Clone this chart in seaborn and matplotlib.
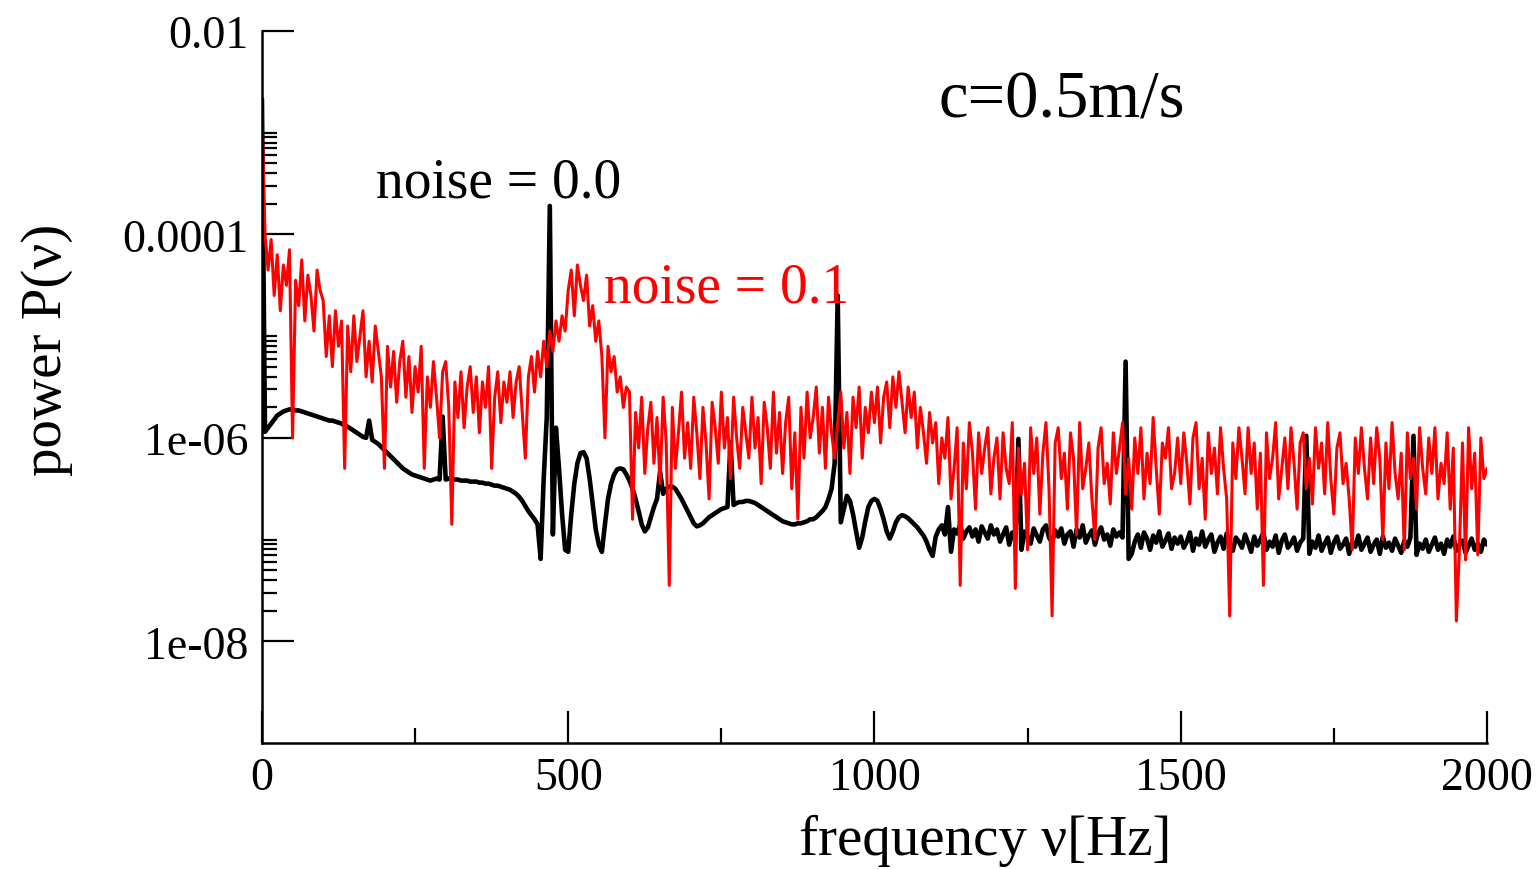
import numpy as np
import pandas as pd
import matplotlib
matplotlib.use("Agg")
import matplotlib.pyplot as plt
import seaborn as sns
from matplotlib.ticker import FixedLocator, NullFormatter

# ---------------- data (log10 of power, 5 Hz grid) ----------------
freq_hz = np.arange(0, 2001, 5)

logp_noise_00 = (
    [-2.67, -5.94, -5.9, -5.86, -5.82, -5.78, -5.76, -5.74, -5.73, -5.72, -5.72, -5.73, -5.73, -5.74, -5.75, -5.76, -5.77, -5.78, -5.79, -5.80]
    + [-5.81, -5.82, -5.83, -5.83, -5.84, -5.85, -5.86, -5.88, -5.89, -5.91, -5.93, -5.95, -5.97, -5.99, -6.00, -5.83, -6.02, -6.04, -6.06, -6.09]
    + [-6.12, -6.15, -6.18, -6.21, -6.24, -6.27, -6.30, -6.32, -6.34, -6.36, -6.37, -6.38, -6.39, -6.40, -6.41, -6.42, -6.41, -6.40, -6.41, -5.79]
    + [-6.41, -6.40, -6.40, -6.41, -6.41, -6.42, -6.42, -6.42, -6.43, -6.43, -6.43, -6.44, -6.44, -6.45, -6.45, -6.46, -6.47, -6.47, -6.48, -6.49]
    + [-6.50, -6.51, -6.53, -6.55, -6.58, -6.62, -6.67, -6.72, -6.76, -6.80, -6.85, -7.19, -6.4, -5.8, -3.72, -6.95, -5.9, -6.3, -6.75, -7.1]
    + [-7.12, -6.75, -6.45, -6.25, -6.15, -6.14, -6.2, -6.4, -6.65, -6.9, -7.05, -7.12, -6.85, -6.6, -6.45, -6.36, -6.31, -6.3, -6.31, -6.36]
    + [-6.42, -6.5, -6.6, -6.72, -6.85, -6.92, -6.88, -6.78, -6.68, -6.6, -6.33, -6.55, -6.5, -6.48, -6.48, -6.5, -6.55, -6.6, -6.66, -6.72]
    + [-6.78, -6.84, -6.87, -6.86, -6.84, -6.81, -6.78, -6.76, -6.74, -6.72, -6.70, -6.69, -6.68, -6.04, -6.66, -6.64, -6.63, -6.63, -6.62, -6.62]
    + [-6.63, -6.64, -6.66, -6.68, -6.70, -6.72, -6.74, -6.76, -6.78, -6.80, -6.82, -6.83, -6.84, -6.85, -6.85, -6.84, -6.84, -6.83, -6.82, -6.80]
    + [-6.8, -6.78, -6.75, -6.72, -6.68, -6.6, -6.5, -6.25, -4.6, -6.83, -6.7, -6.57, -6.62, -6.75, -6.92, -7.08, -6.98, -6.82, -6.68, -6.62]
    + [-6.6, -6.62, -6.7, -6.8, -6.92, -6.99, -6.92, -6.83, -6.78, -6.76, -6.77, -6.79, -6.82, -6.85, -6.88, -6.92, -6.96, -7.02, -7.1, -7.16]
    + [-6.97, -6.9, -6.86, -6.95, -6.68, -7.12, -6.9, -6.94, -6.85, -6.99, -6.92, -6.88, -6.97, -6.9, -7.02, -6.87, -6.93, -6.99, -6.86, -6.95]
    + [-6.9, -7.02, -6.95, -6.88, -7.05, -6.93, -7.0, -6.01, -7.1, -6.92, -6.97, -7.04, -6.89, -6.96, -7.02, -6.9, -6.86, -6.98, -7.03, -6.91]
    + [-6.97, -6.89, -7.04, -6.95, -6.92, -7.07, -6.9, -6.98, -6.86, -7.03, -6.96, -6.91, -7.05, -6.94, -6.88, -7.0, -6.95, -7.06, -6.9, -6.97]
    + [-6.93, -6.98, -5.25, -7.19, -7.14, -7.02, -6.95, -7.08, -6.93, -6.99, -7.1, -6.96, -7.03, -6.92, -7.07, -7.01, -6.94, -7.09, -6.98, -7.04]
    + [-6.97, -7.08, -7.02, -6.93, -7.11, -6.99, -7.05, -6.92, -7.07, -7.0, -6.95, -7.12, -7.03, -6.97, -7.09, -6.94, -7.04, -7.11, -6.98, -7.02]
    + [-7.08, -6.95, -7.03, -7.12, -6.97, -7.06, -7.0, -6.93, -7.1, -7.02, -7.07, -6.96, -7.13, -7.01, -6.95, -7.08, -7.04, -6.98, -7.11, -7.03]
    + [-6.99, -5.98, -7.14, -7.02, -7.08, -6.96, -7.11, -7.04, -6.98, -7.13, -7.03, -6.97, -7.09, -7.05, -6.99, -7.14, -7.02, -7.07, -6.96, -7.1]
    + [-7.04, -6.98, -7.12, -7.05, -7.0, -7.14, -6.97, -7.08, -7.03, -7.11, -6.99, -7.06, -7.13, -7.01, -7.07, -6.98, -5.98, -7.15, -7.04, -7.09]
    + [-7.0, -7.12, -7.05, -6.98, -7.1, -7.04, -7.14, -7.0, -7.07, -6.97, -7.11, -7.05, -7.01, -7.13, -7.06, -6.99, -7.1, -7.04, -7.12, -7.0, -7.05]
)

logp_noise_01 = (
    [-2.8, -4.0, -4.35, -4.05, -4.6, -4.2, -4.75, -4.3, -4.5, -4.15, -6.0, -4.45, -4.7, -4.25, -4.85, -4.4, -4.6, -4.95, -4.35, -4.55]
    + [-4.65, -5.2, -4.8, -5.3, -4.75, -5.1, -4.85, -6.3, -4.9, -5.35, -4.8, -5.25, -5.0, -4.75, -5.4, -5.05, -5.45, -4.9, -5.15, -5.4]
    + [-6.3, -5.1, -5.5, -5.15, -5.65, -5.25, -5.05, -5.6, -5.2, -5.75, -5.3, -5.55, -5.1, -6.3, -5.4, -5.7, -5.25, -5.6, -6.0, -5.35]
    + [-5.25, -5.7, -6.85, -5.45, -5.8, -5.35, -5.9, -5.5, -5.3, -5.75, -5.4, -5.95, -5.45, -5.7, -5.3, -6.3, -5.6, -5.35, -5.85, -5.45]
    + [-5.65, -5.35, -5.8, -5.45, -5.3, -5.75, -6.2, -5.4, -5.2, -5.55, -5.15, -5.4, -5.05, -5.3, -4.95, -5.15, -4.85, -5.05, -4.8, -4.95]
    + [-4.55, -4.35, -4.8, -4.3, -4.5, -4.65, -4.4, -4.9, -4.7, -5.05, -4.85, -5.2, -6.0, -5.1, -5.35, -5.2, -5.55, -5.4, -5.7, -5.5]
    + [-5.55, -6.8, -5.75, -6.1, -5.6, -6.35, -5.9, -5.65, -6.25, -5.8, -6.45, -5.6, -6.05, -7.45, -5.7, -6.3, -5.95, -5.55, -6.2, -5.85]
    + [-6.3, -5.6, -5.95, -6.4, -5.7, -6.05, -6.6, -5.65, -5.9, -6.25, -5.55, -6.1, -5.8, -6.4, -5.6, -6.0, -6.3, -5.7, -5.95, -6.2]
    + [-5.6, -6.1, -5.8, -6.45, -5.65, -5.9, -6.3, -5.55, -6.15, -5.75, -6.35, -5.85, -5.6, -6.5, -5.95, -6.8, -5.7, -6.2, -5.55, -6.0]
    + [-5.8, -5.5, -6.15, -5.7, -6.3, -5.6, -5.95, -6.2, -5.85, -5.55, -6.1, -5.75, -6.35, -5.6, -5.9, -5.5, -6.2, -5.7, -5.95, -5.55]
    + [-5.85, -5.5, -6.05, -5.6, -5.45, -5.9, -5.4, -5.7, -5.35, -5.65, -5.95, -5.5, -5.8, -5.55, -6.1, -5.7, -5.95, -6.25, -5.75, -6.05]
    + [-5.85, -6.45, -6.0, -6.2, -5.8, -6.6, -6.3, -5.9, -7.45, -6.05, -6.5, -5.85, -6.15, -6.7, -5.95, -6.35, -6.1, -5.9, -6.55, -6.2]
    + [-6.0, -6.6, -5.95, -6.3, -6.45, -5.85, -7.48, -6.1, -6.55, -6.25, -7.1, -5.9, -6.35, -6.0, -6.75, -6.15, -5.85, -6.5, -7.75, -6.05]
    + [-5.9, -6.4, -6.15, -6.7, -5.95, -6.2, -6.95, -5.85, -6.5, -6.3, -6.05, -6.6, -7.0, -6.1, -5.9, -6.45, -6.25, -6.65, -5.95, -6.35]
    + [-6.1, -5.85, -6.55, -6.2, -6.7, -6.0, -6.35, -5.9, -6.6, -6.15, -6.45, -5.8, -6.3, -6.75, -6.05, -6.2, -5.9, -6.5, -6.35, -6.0]
    + [-6.45, -5.95, -6.25, -6.65, -6.0, -5.85, -6.5, -6.2, -6.8, -5.95, -6.35, -6.1, -6.55, -5.9, -6.3, -6.6, -7.75, -6.05, -6.4, -5.9]
    + [-6.2, -6.55, -5.9, -6.35, -6.05, -6.7, -6.15, -7.45, -5.95, -6.4, -6.2, -5.85, -6.6, -6.3, -6.0, -6.5, -5.9, -6.25, -6.7, -6.05]
    + [-5.95, -6.5, -6.2, -6.65, -5.9, -6.3, -6.05, -6.55, -5.85, -6.4, -6.75, -6.1, -5.95, -6.45, -6.25, -6.6, -7.1, -6.0, -6.35, -5.9]
    + [-6.3, -6.6, -6.0, -6.45, -5.9, -6.2, -7.0, -6.05, -6.5, -5.85, -6.35, -6.6, -6.15, -7.1, -5.95, -6.4, -6.2, -6.7, -5.9, -6.3]
    + [-6.55, -6.0, -6.35, -5.9, -6.6, -6.25, -6.45, -5.95, -6.7, -6.1, -7.8, -7.1, -6.05, -7.2, -5.9, -6.5, -6.15, -7.15, -6.0, -6.4, -6.3]
)

y_major_ticks = [1e-8, 1e-6, 1e-4, 1e-2]
y_major_labels = ["1e-08", "1e-06", "0.0001", "0.01"]
x_major_ticks = [0, 500, 1000, 1500, 2000]
x_major_labels = ["0", "500", "1000", "1500", "2000"]
x_minor_ticks = [250, 750, 1250, 1750]

title_text = "c=0.5m/s"
label_00 = "noise = 0.0"
label_01 = "noise = 0.1"
x_label = "frequency \u03bd[Hz]"
y_label = "power P(\u03bd)"

assert len(logp_noise_00) == len(freq_hz) == len(logp_noise_01)

df00 = pd.DataFrame({"freq": freq_hz, "power": 10.0 ** np.array(logp_noise_00)})
df01 = pd.DataFrame({"freq": freq_hz, "power": 10.0 ** np.array(logp_noise_01)})

# ---------------- style ----------------
sns.set_style("ticks")
plt.rcParams['font.family'] = ['Liberation Serif', 'DejaVu Serif']
plt.rcParams['text.color'] = 'black'
plt.rcParams['axes.labelcolor'] = 'black'

fig = plt.figure(figsize=(15.39, 8.70), dpi=100)
ax = fig.add_axes([0.1702, 0.1448, 0.7960, 0.8184])

sns.lineplot(data=df00, x="freq", y="power", color="black", linewidth=3.3,
             estimator=None, sort=False, ax=ax)
sns.lineplot(data=df01, x="freq", y="power", color="#ff0000", linewidth=2.2,
             estimator=None, sort=False, ax=ax)

ax.set_yscale("log")
ax.set_xlim(0, 2000)
ax.set_ylim(1e-9, 1e-2)

ax.yaxis.set_major_locator(FixedLocator(y_major_ticks))
ax.set_yticklabels(y_major_labels)
y_minor = [k * 10.0 ** n for n in (-8, -6, -4) for k in range(2, 11)]
ax.yaxis.set_minor_locator(FixedLocator(y_minor))
ax.yaxis.set_minor_formatter(NullFormatter())

ax.xaxis.set_major_locator(FixedLocator(x_major_ticks))
ax.set_xticklabels(x_major_labels)
ax.xaxis.set_minor_locator(FixedLocator(x_minor_ticks))

ax.tick_params(axis="both", which="major", direction="in", length=23, width=1.6,
               labelsize=33, colors="black", pad=10)
ax.tick_params(axis="both", which="minor", direction="in", length=11, width=1.6,
               colors="black")

for s in ("top", "right"):
    ax.spines[s].set_visible(False)
for s in ("left", "bottom"):
    ax.spines[s].set_linewidth(1.8)
    ax.spines[s].set_color("black")

ax.set_xlabel(x_label, fontsize=41, color="black")
ax.set_ylabel(y_label, fontsize=41, color="black")
ax.xaxis.set_label_coords(0.590, -0.100)
ax.yaxis.set_label_coords(-0.154, 0.553)

ax.text(1104, 10 ** -2.84, title_text, fontsize=48, color="black", va="baseline", ha="left")
ax.text(186, 10 ** -3.63, label_00, fontsize=40, color="black", va="baseline", ha="left")
ax.text(558, 10 ** -4.66, label_01, fontsize=40, color="#ff0000", va="baseline", ha="left")

fig.savefig("out.png", dpi=100)
